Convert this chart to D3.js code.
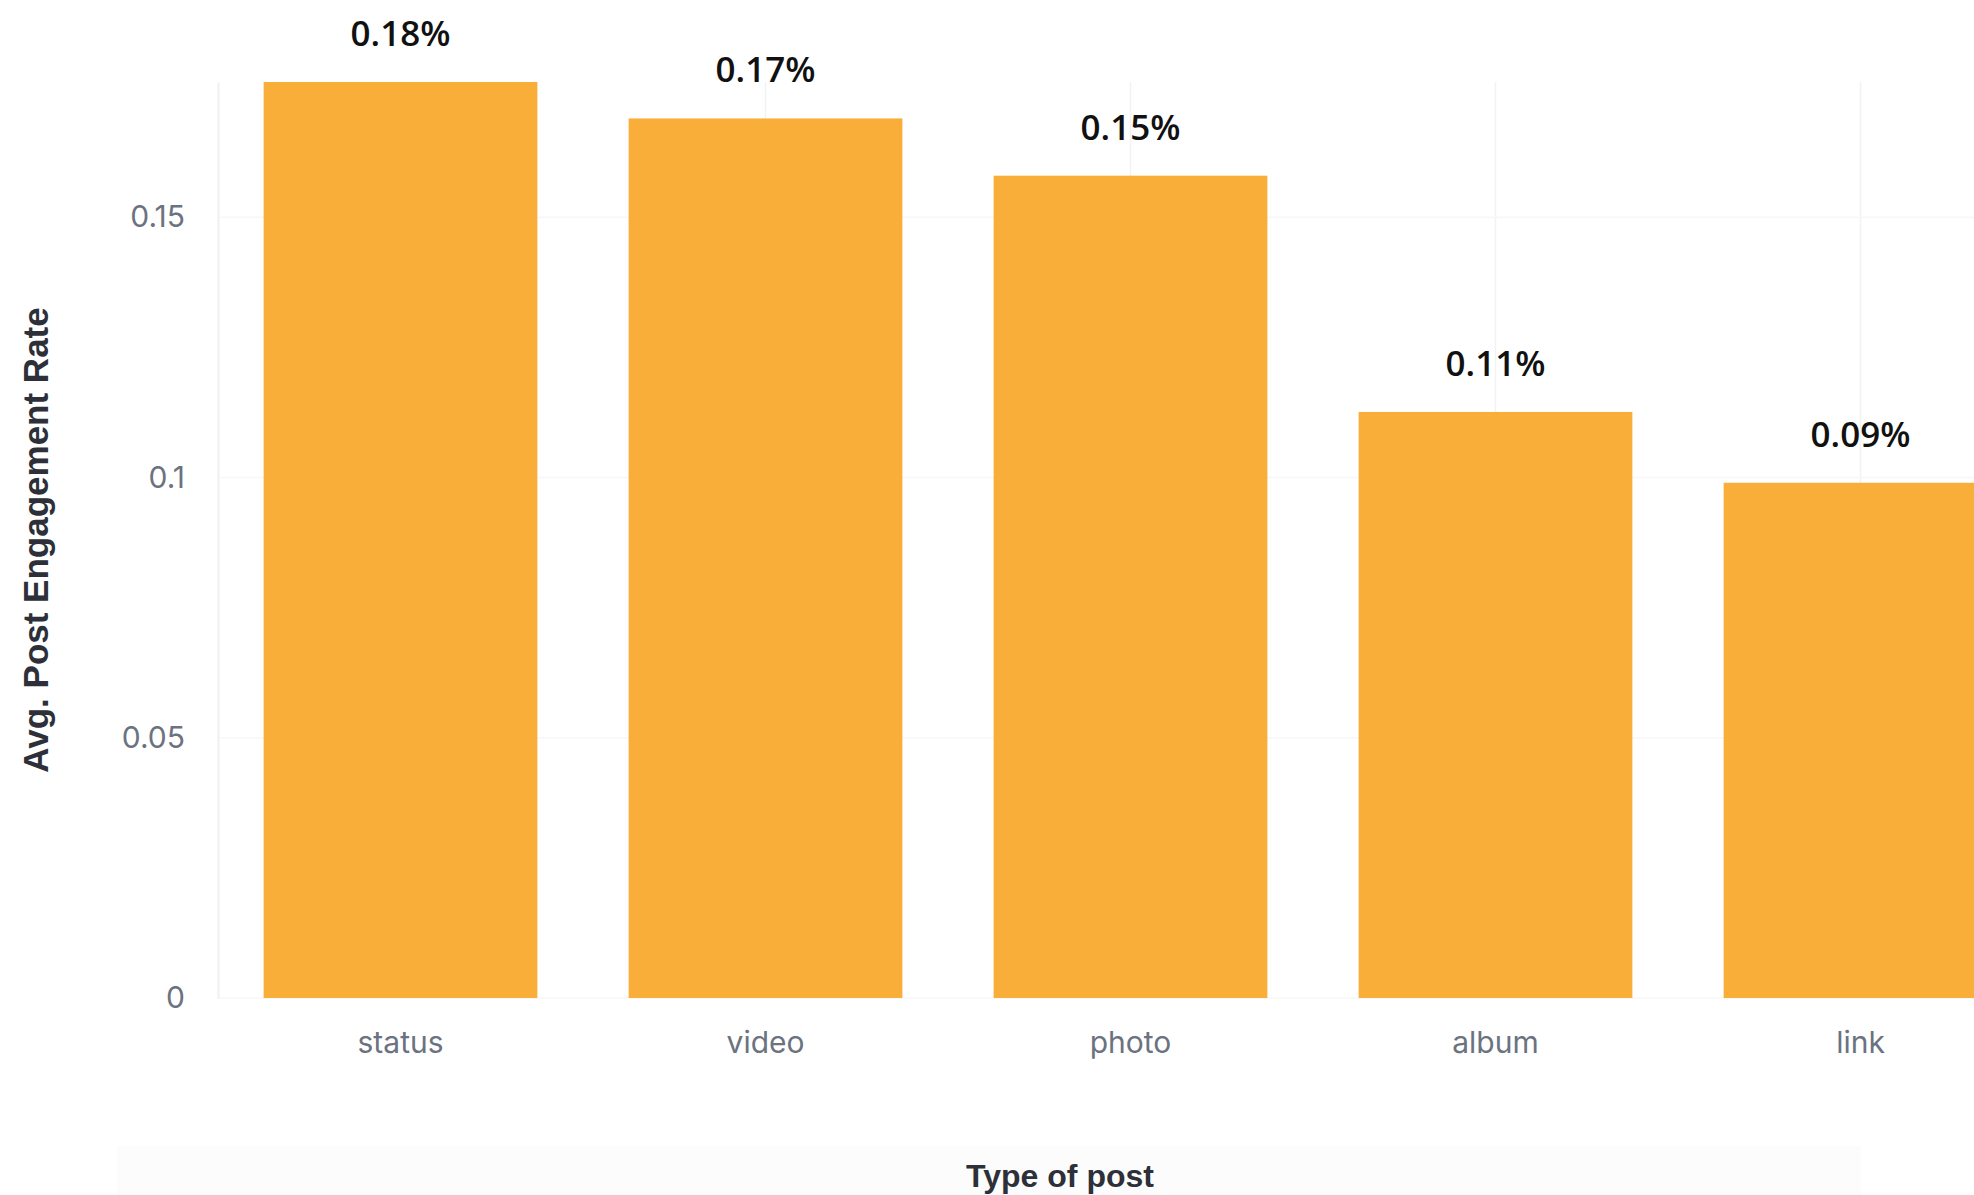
<!DOCTYPE html>
<html>
<head>
<meta charset="utf-8">
<script src="https://cdn.jsdelivr.net/npm/d3@7"></script>
<style>
  html, body { margin: 0; padding: 0; background: #fff; overflow: hidden; }
  .tick text { fill: #6b7280; font-family: Inter, "Noto Sans", sans-serif; font-size: 30px; }
  .axis-title { fill: #2d3039; font-family: "Liberation Sans", Arial, sans-serif; font-weight: bold; }
  .bar-label { fill: #111; font-family: "Open Sans", "Noto Sans", sans-serif; font-weight: 600; font-size: 35px; }
</style>
</head>
<body>
<div class="chart"></div>
<script>
const postTypes = ["status", "video", "photo", "album", "link"];
const engagementRates = [0.176, 0.169, 0.158, 0.1126, 0.099];
const rateLabels = ["0.18%", "0.17%", "0.15%", "0.11%", "0.09%"];
const yTicks = [0, 0.05, 0.1, 0.15];

const width = 1974;
const height = 1195;
const margin = { top: 82, left: 218, bottom: 197 };
const plotRight = 2043; // plot runs past the right edge, last bar gets clipped

const svg = d3
  .select(".chart")
  .append("svg")
  .attr("width", width)
  .attr("height", height);

const x = d3
  .scaleBand()
  .domain(postTypes)
  .range([margin.left, plotRight])
  .paddingInner(0.25)
  .paddingOuter(0.125);

const y = d3
  .scaleLinear()
  .domain([0, d3.max(engagementRates)])
  .range([height - margin.bottom, margin.top]);

// faint panel behind the x title
svg
  .append("rect")
  .attr("x", 117)
  .attr("y", 1146)
  .attr("width", 1744)
  .attr("height", height - 1146)
  .attr("fill", "#fcfcfc");

// grid, barely visible
const grid = svg.append("g").attr("stroke-width", 1.5);
grid
  .selectAll("line.v")
  .data(postTypes)
  .join("line")
  .attr("class", "v")
  .attr("stroke", "#f1f2f4")
  .attr("x1", (d) => x(d) + x.bandwidth() / 2)
  .attr("x2", (d) => x(d) + x.bandwidth() / 2)
  .attr("y1", y.range()[1])
  .attr("y2", y.range()[0]);
grid
  .selectAll("line.h")
  .data(yTicks)
  .join("line")
  .attr("class", "h")
  .attr("stroke", "#f7f7f9")
  .attr("x1", margin.left)
  .attr("x2", width)
  .attr("y1", (d) => y(d))
  .attr("y2", (d) => y(d));

// y axis
const yAxis = svg
  .append("g")
  .attr("transform", `translate(${margin.left},0)`)
  .call(
    d3
      .axisLeft(y)
      .tickValues(yTicks)
      .tickFormat((d) => String(d))
      .tickSize(0)
      .tickPadding(33)
  );
yAxis.select(".domain").attr("stroke", "#eef0f3").attr("stroke-width", 2);

// x axis
const xAxis = svg
  .append("g")
  .attr("transform", `translate(0,${y(0)})`)
  .call(d3.axisBottom(x).tickSize(0).tickPadding(34));
xAxis.select(".domain").remove();

// bars
svg
  .append("g")
  .selectAll("rect")
  .data(postTypes)
  .join("rect")
  .attr("x", (d) => x(d))
  .attr("y", (d, i) => y(engagementRates[i]))
  .attr("width", x.bandwidth())
  .attr("height", (d, i) => y(0) - y(engagementRates[i]))
  .attr("fill", "#f9ae3a");

// value labels
svg
  .append("g")
  .selectAll("text")
  .data(postTypes)
  .join("text")
  .attr("class", "bar-label")
  .attr("x", (d) => x(d) + x.bandwidth() / 2)
  .attr("y", (d, i) => y(engagementRates[i]) - 36)
  .attr("text-anchor", "middle")
  .text((d, i) => rateLabels[i]);

// axis titles
svg
  .append("text")
  .attr("class", "axis-title")
  .attr("transform", `translate(35,${(y.range()[0] + y.range()[1]) / 2}) rotate(-90)`)
  .attr("text-anchor", "middle")
  .attr("dominant-baseline", "central")
  .attr("font-size", 35)
  .text("Avg. Post Engagement Rate");

svg
  .append("text")
  .attr("class", "axis-title")
  .attr("x", 1060)
  .attr("y", 1187)
  .attr("text-anchor", "middle")
  .attr("font-size", 32)
  .text("Type of post");
</script>
</body>
</html>
